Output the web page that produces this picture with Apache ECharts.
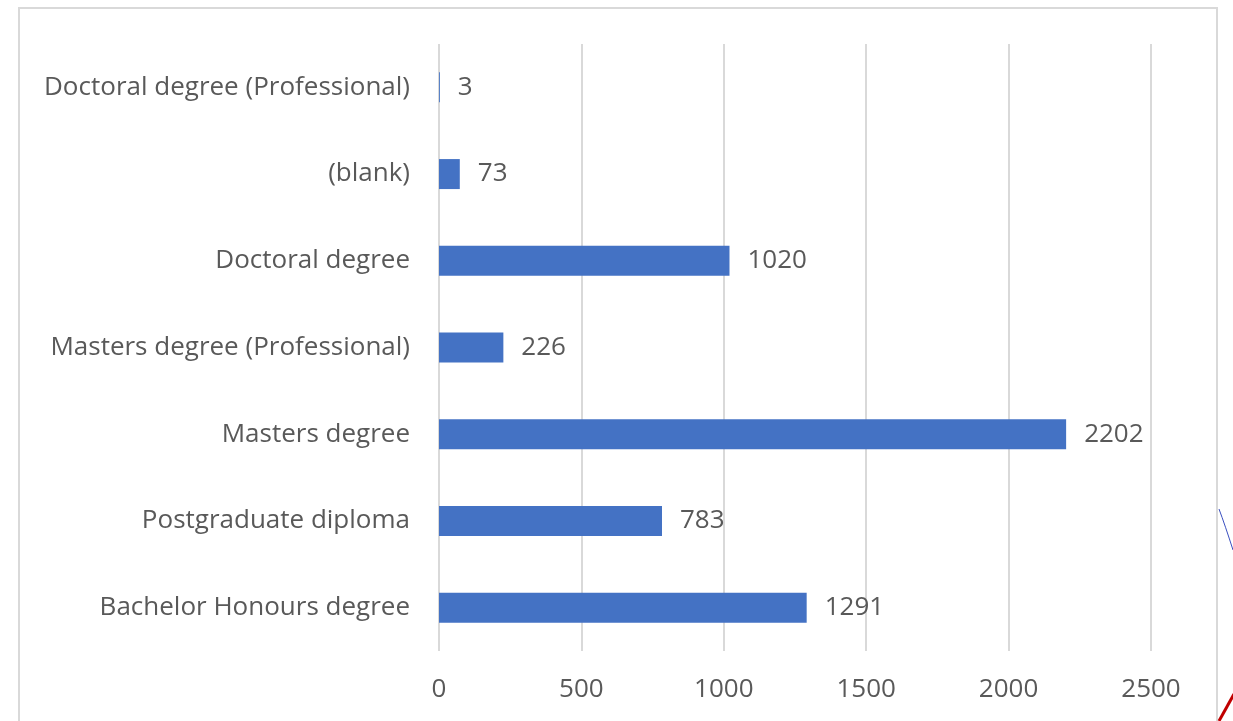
<!DOCTYPE html>
<html>
<head>
<meta charset="utf-8">
<script src="https://cdn.jsdelivr.net/npm/echarts@6/dist/echarts.min.js"></script>
<style>
  html, body { margin: 0; padding: 0; background: #fff; }
  #chart { width: 1233px; height: 721px; }
</style>
</head>
<body>
<div id="chart"></div>
<script>
// bottom to top, as the value axis is horizontal
const categories = [
  "Bachelor Honours degree",
  "Postgraduate diploma",
  "Masters degree",
  "Masters degree (Professional)",
  "Doctoral degree",
  "(blank)",
  "Doctoral degree (Professional)"
];
const counts = [1291, 783, 2202, 226, 1020, 73, 3];
const xTicks = [0, 500, 1000, 1500, 2000, 2500];

const textColor = "#595959";
const font = "Open Sans";

const chart = echarts.init(document.getElementById("chart"));

chart.setOption({
  backgroundColor: "#fff",
  animation: false,
  grid: { left: 439, right: 82, top: 44, bottom: 70 },
  xAxis: {
    type: "value",
    min: xTicks[0],
    max: xTicks[xTicks.length - 1],
    interval: 500,
    axisLine: { show: false },
    axisTick: { show: false },
    axisLabel: {
      color: textColor, fontFamily: font, fontSize: 26, margin: 26,
      formatter: (v) => String(v)
    },
    splitLine: { lineStyle: { color: "#d9d9d9", width: 2 } }
  },
  yAxis: {
    type: "category",
    data: categories,
    axisLine: { show: false },
    axisTick: { show: false },
    axisLabel: { color: textColor, fontFamily: font, fontSize: 26, margin: 29 }
  },
  series: [{
    type: "bar",
    data: counts,
    barWidth: 30,
    itemStyle: { color: "#4472c4" },
    label: {
      show: true,
      position: "right",
      distance: 18,
      color: textColor,
      fontFamily: font,
      fontSize: 26
    }
  }],
  graphic: [
    {
      type: "rect",
      shape: { x: 19, y: 8, width: 1198, height: 720 },
      style: { fill: "none", stroke: "#d9d9d9", lineWidth: 2 },
      silent: true
    },
    {
      type: "bezierCurve",
      shape: { x1: 1219, y1: 509, x2: 1233, y2: 550, cpx1: 1225, cpy1: 525 },
      style: { stroke: "#3a4fc0", lineWidth: 1, fill: "none" },
      silent: true
    },
    {
      type: "line",
      shape: { x1: 1219, y1: 721, x2: 1234, y2: 694 },
      style: { stroke: "#c00000", lineWidth: 3 },
      silent: true
    }
  ]
});
</script>
</body>
</html>
